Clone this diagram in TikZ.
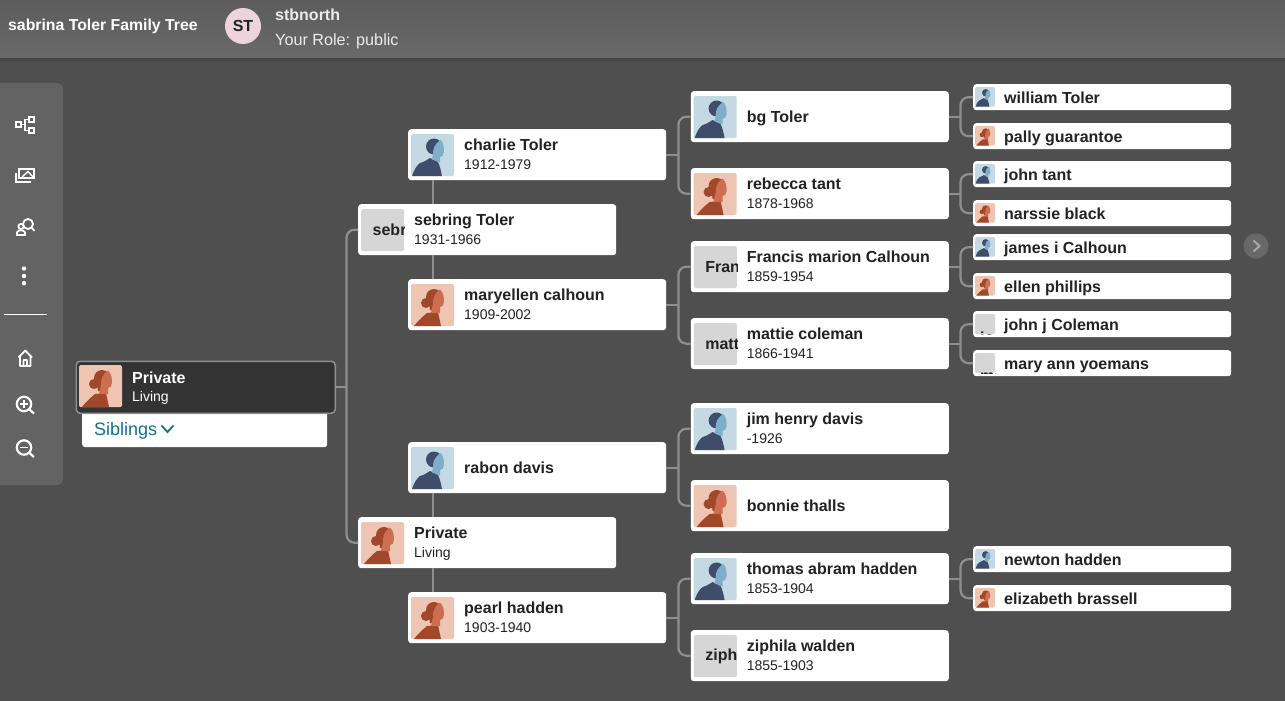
\documentclass[tikz,border=0pt]{standalone}
\usepackage{fontspec}
\setmainfont{Liberation Sans}
\usetikzlibrary{calc}

\definecolor{fondo}{HTML}{4F4F4F}
\definecolor{barra}{HTML}{636363}
\definecolor{linea}{HTML}{8F8F8F}
\definecolor{tinta}{HTML}{222222}
\definecolor{enlace}{HTML}{11708F}
\definecolor{avatarfondo}{HTML}{ECD3DC}
\definecolor{hombrefondo}{HTML}{C5D9E4}
\definecolor{hombrecara}{HTML}{7FAECA}
\definecolor{hombreropa}{HTML}{3F4D6B}
\definecolor{mujerfondo}{HTML}{EEC4B2}
\definecolor{mujercara}{HTML}{CC6E4F}
\definecolor{mujerropa}{HTML}{A2482A}

\tikzset{
    rama/.style={draw=linea, line width=2.2pt},
    cajagrande/.style={fill=white, rounded corners=3pt, inner sep=0pt, anchor=north west,
        minimum width=258pt, minimum height=51pt},
    cajachica/.style={fill=white, rounded corners=3pt, inner sep=0pt, anchor=north west,
        minimum width=258pt, minimum height=26pt},
    textonombre/.style={anchor=base west, inner sep=0pt, text=tinta,
        font=\fontsize{16}{18}\selectfont\bfseries},
    textofecha/.style={anchor=base west, inner sep=0pt, text=tinta,
        font=\fontsize{14}{18}\selectfont},
    fotogrande/.style={fill=black!16, rounded corners=1.5pt, inner sep=0pt, anchor=north west,
        minimum width=43pt, minimum height=42pt},
    fotochica/.style={fill=black!16, rounded corners=1.5pt, inner sep=0pt, anchor=north west,
        minimum width=20pt, minimum height=20pt},
    inicial/.style={inner sep=0pt, text=tinta, font=\fontsize{16}{18}\selectfont\bfseries},
    icono/.style={draw=white, line width=1.8pt},
    pics/hombre/.style={code={
        \fill[hombrefondo, rounded corners=1.5pt] (0,0) rectangle (43,42);
        \fill[hombreropa] (1,42) .. controls (3,36) and (6,31) .. (9,29) .. controls (13,28) and (16,26) .. (19,24)
            .. controls (22,25) and (25,27) .. (27,28) .. controls (29,32) and (30,37) .. (31,42) -- cycle;
        \fill[hombreropa] (23,12.5) circle[radius=8];
        \fill[hombrecara] (30,6) .. controls (33,10) and (33,15) .. (33,18) .. controls (33,21) and (31,23) .. (29,23)
            -- (29,28.5) -- (21,25.5) -- (22,20) .. controls (22,15) and (23,10) .. (30,6) -- cycle;
    }},
    pics/mujer/.style={code={
        \fill[mujerfondo, rounded corners=1.5pt] (0,0) rectangle (43,42);
        \fill[mujerropa] (3,42) .. controls (7,37) and (11,33) .. (16,29) -- (27,28)
            .. controls (28,33) and (29,37) .. (30,42) -- cycle;
        \fill[mujerropa] (23,13) circle[radius=8] (15,19) circle[radius=5];
        \fill[mujerropa] (18,19) -- (25,19) -- (24,26) -- (19,26) -- cycle;
        \fill[mujercara] (29,5.5) .. controls (33,9) and (33,15) .. (33,18) .. controls (33,21) and (31,23) .. (29,23)
            -- (29,29) -- (20,29) -- (22,20) .. controls (22,15) and (23,9) .. (29,5.5) -- cycle;
    }},
}

% Caja de una persona con nombre y fechas.
\newcommand{\persona}[5]{
    \node[cajagrande] (#1) at (#2,#3) {};
    \ifx&#5&
        \node[textonombre] (#1-texto) at ([xshift=56pt,yshift=-31pt]#1.north west) {#4};
    \else
        \node[textonombre] (#1-texto) at ([xshift=56pt,yshift=-21.7pt]#1.north west) {#4};
        \node[textofecha] (#1-fecha) at ([xshift=56pt,yshift=-40pt]#1.north west) {#5};
    \fi
}
\newcommand{\personachica}[4]{
    \node[cajachica] (#1) at (#2,#3) {};
    \node[textonombre] (#1-texto) at ([xshift=31pt,yshift=-19pt]#1.north west) {#4};
}

% Fotos de cada caja.
\newcommand{\fotoH}[1]{\pic at ([xshift=3pt,yshift=-5pt]#1.north west) {hombre};}
\newcommand{\fotoM}[1]{\pic at ([xshift=3pt,yshift=-5pt]#1.north west) {mujer};}
\newcommand{\fotoHchica}[1]{\pic[scale=.465] at ([xshift=2pt,yshift=-3pt]#1.north west) {hombre};}
\newcommand{\fotoMchica}[1]{\pic[scale=.465] at ([xshift=2pt,yshift=-3pt]#1.north west) {mujer};}
\newcommand{\fotoG}[2]{
    \node[fotogrande] (#1-foto) at ([xshift=3pt,yshift=-5pt]#1.north west) {};
    \begin{scope}
        \clip (#1-foto.north west) rectangle (#1-foto.south east);
        \node[inicial, anchor=west] (#1-inicial) at ([xshift=11.5pt]#1-foto.west) {#2};
    \end{scope}
}
\newcommand{\fotoGchica}[3]{
    \node[fotochica] (#1-foto) at ([xshift=2pt,yshift=-3pt]#1.north west) {};
    \begin{scope}
        \clip (#1-foto.north west) rectangle (#1-foto.south east);
        \node[inicial, anchor=base west] (#1-inicial) at ([xshift=5pt,yshift=-#3]#1-foto.north west) {#2};
    \end{scope}
}

% Une un padre con sus dos hijos.
\newcommand{\horquilla}[4]{
    \coordinate (#1-union) at ([xshift=#4]#1.east);
    \draw[rama] (#1.east) -- (#1-union);
    \draw[rama, rounded corners=8pt] (#2.west) -| (#1-union);
    \draw[rama, rounded corners=8pt] (#3.west) -| (#1-union);
}

\begin{document}
\begin{tikzpicture}[x=1pt,y=-1pt]
    \useasboundingbox (0,0) rectangle (1285,701);
    \fill[fondo] (0,0) rectangle (1285,701);

    % Barra superior.
    \shade[top color=black!15!fondo, bottom color=fondo] (0,58) rectangle (1285,63);
    \shade[top color=barra!93!black, bottom color=barra!96!white] (0,0) rectangle (1285,58);
    \node[anchor=west, inner sep=0pt, text=white, font=\fontsize{15.8}{18}\selectfont\bfseries] (titulo) at (8,26.5) {sabrina Toler Family Tree};
    \node[circle, fill=avatarfondo, minimum size=36pt, inner sep=0pt, text=tinta, font=\fontsize{16}{18}\selectfont\bfseries] (avatar) at (243,26) {ST};
    \node[anchor=west, inner sep=0pt, text=white!92!black, font=\fontsize{16}{18}\selectfont\bfseries] (usuario) at (275,14.5) {stbnorth};
    \node[anchor=west, inner sep=0pt, text=white!92!black, font=\fontsize{16.2}{18}\selectfont] (papel) at (275,41.5) {Your Role: public};

    % Barra lateral e iconos.
    \fill[barra, rounded corners=6pt] (-10,83) rectangle (63,485);
    \draw[white, line width=1pt] (4,314.5) -- (47,314.5);
    \draw[icono] (15.9,121.9) rectangle (21,127.2);
    \draw[icono] (29,116.9) rectangle (34.1,121.9);
    \draw[icono] (29,127.9) rectangle (34.1,132.9);
    \draw[icono, line width=1.4pt] (21,124.5) -- (25,124.5) (29,119.3) -- (25,119.3) -- (25,130.3) -- (29,130.3);
    \draw[icono] (19,178) -- (19,168.9) -- (34.1,168.9) -- (34.1,178) -- cycle;
    \draw[icono] (15.9,172.5) -- (15.9,182.3) -- (31,182.3);
    \draw[icono, line width=1.4pt] (22,177) -- (28,171.5) -- (33,177);
    \draw[icono] (28,224) circle[radius=5];
    \draw[icono] (31.8,228) -- (34.5,230.8);
    \draw[icono] (21,226.5) circle[radius=2.6];
    \draw[icono] (17,235) -- (17,232.5) .. controls (18,229.5) and (24,229.5) .. (25,232.5) -- (25,235) -- cycle;
    \fill[white] (24,268.5) circle[radius=2.2] (24,276) circle[radius=2.2] (24,283.2) circle[radius=2.2];
    \draw[icono, line join=round] (18.5,357.5) -- (25.3,350.5) -- (32,357.5) (20,356) -- (20,366) -- (30.5,366) -- (30.5,356) (23.5,366) -- (23.5,360) -- (27,360) -- (27,366);
    \draw[icono, line width=2.2pt] (24,404) circle[radius=7.2];
    \draw[icono, line width=2.2pt] (29.5,409.5) -- (34,413.5);
    \draw[icono] (20,404) -- (28,404) (24,400) -- (24,408);
    \draw[icono, line width=2.2pt] (24,447.5) circle[radius=7.2];
    \draw[icono, line width=2.2pt] (29.5,453) -- (34,457);
    \draw[icono] (20,447.5) -- (28,447.5);

    % Flecha de avance.
    \node[circle, fill=white!14!fondo, minimum size=25pt, inner sep=0pt] (avance) at (1256,246) {};
    \draw[white!50!fondo, line width=2pt] ([shift={(-2.5pt,5.5pt)}]avance.center) -- ([xshift=3.5pt]avance.center) -- ([shift={(-2.5pt,-5.5pt)}]avance.center);

    % Persona principal.
    \node[fill=white, rounded corners=3pt, inner sep=0pt, anchor=north west, minimum width=245pt, minimum height=40pt] (hermanos) at (82,407) {};
    \node[anchor=base west, inner sep=0pt, text=enlace, font=\fontsize{18}{20}\selectfont] (hermanos-texto) at (94,435) {Siblings};
    \draw[enlace, line width=1.8pt] (161.5,425.5) -- (167.5,432) -- (173.5,425.5);
    \node[fill=black!80, draw=linea, line width=1.5pt, rounded corners=4pt, inner sep=0pt, anchor=north west, minimum width=259pt, minimum height=52pt] (raiz) at (75.5,360.5) {};
    \node[textonombre, text=white] (raiz-texto) at (132,383) {Private};
    \node[textofecha, text=white] (raiz-fecha) at (132,401) {Living};
    \pic at ([xshift=3.5pt,yshift=-4.5pt]raiz.north west) {mujer};

    % Padres.
    \persona{sebring}{358}{204}{sebring Toler}{1931-1966}
    \fotoG{sebring}{sebr}
    \persona{privada}{358}{517}{Private}{Living}
    \fotoM{privada}

    % Abuelos.
    \persona{charlie}{408}{129}{charlie Toler}{1912-1979}
    \fotoH{charlie}
    \persona{maryellen}{408}{279}{maryellen calhoun}{1909-2002}
    \fotoM{maryellen}
    \persona{rabon}{408}{442}{rabon davis}{}
    \fotoH{rabon}
    \persona{pearl}{408}{592}{pearl hadden}{1903-1940}
    \fotoM{pearl}

    % Bisabuelos.
    \persona{bg}{690.6}{91}{bg Toler}{}
    \fotoH{bg}
    \persona{rebecca}{690.6}{168}{rebecca tant}{1878-1968}
    \fotoM{rebecca}
    \persona{francis}{690.6}{241}{Francis marion Calhoun}{1859-1954}
    \fotoG{francis}{Fran}
    \persona{mattie}{690.6}{318}{mattie coleman}{1866-1941}
    \fotoG{mattie}{matt}
    \persona{jim}{690.6}{403}{jim henry davis}{-1926}
    \fotoH{jim}
    \persona{bonnie}{690.6}{480}{bonnie thalls}{}
    \fotoM{bonnie}
    \persona{thomas}{690.6}{553}{thomas abram hadden}{1853-1904}
    \fotoH{thomas}
    \persona{ziphila}{690.6}{630}{ziphila walden}{1855-1903}
    \fotoG{ziphila}{ziph}

    % Tatarabuelos.
    \personachica{william}{973}{84}{william Toler}
    \fotoHchica{william}
    \personachica{pally}{973}{123}{pally guarantoe}
    \fotoMchica{pally}
    \personachica{johnt}{973}{161}{john tant}
    \fotoHchica{johnt}
    \personachica{narssie}{973}{200}{narssie black}
    \fotoMchica{narssie}
    \personachica{james}{973}{234}{james i Calhoun}
    \fotoHchica{james}
    \personachica{ellen}{973}{273}{ellen phillips}
    \fotoMchica{ellen}
    \personachica{johnj}{973}{311}{john j Coleman}
    \fotoGchica{johnj}{jo}{29pt}
    \personachica{mary}{973}{350}{mary ann yoemans}
    \fotoGchica{mary}{ma}{28.5pt}
    \personachica{newton}{973}{546}{newton hadden}
    \fotoHchica{newton}
    \personachica{elizabeth}{973}{585}{elizabeth brassell}
    \fotoMchica{elizabeth}

    % Ramas entre generaciones.
    \horquilla{raiz}{sebring}{privada}{10.5pt}
    \horquilla{charlie}{bg}{rebecca}{12pt}
    \horquilla{maryellen}{francis}{mattie}{12pt}
    \horquilla{rabon}{jim}{bonnie}{12pt}
    \horquilla{pearl}{thomas}{ziphila}{12pt}
    \horquilla{bg}{william}{pally}{11.5pt}
    \horquilla{rebecca}{johnt}{narssie}{11.5pt}
    \horquilla{francis}{james}{ellen}{11.5pt}
    \horquilla{mattie}{johnj}{mary}{11.5pt}
    \horquilla{thomas}{newton}{elizabeth}{11.5pt}

    % Trazos verticales entre padres y abuelos.
    \draw[rama] ([xshift=25pt]charlie.south west) -- ([xshift=75pt]sebring.north west);
    \draw[rama] ([xshift=75pt]sebring.south west) -- ([xshift=25pt]maryellen.north west);
    \draw[rama] ([xshift=25pt]rabon.south west) -- ([xshift=75pt]privada.north west);
    \draw[rama] ([xshift=75pt]privada.south west) -- ([xshift=25pt]pearl.north west);
\end{tikzpicture}
\end{document}
